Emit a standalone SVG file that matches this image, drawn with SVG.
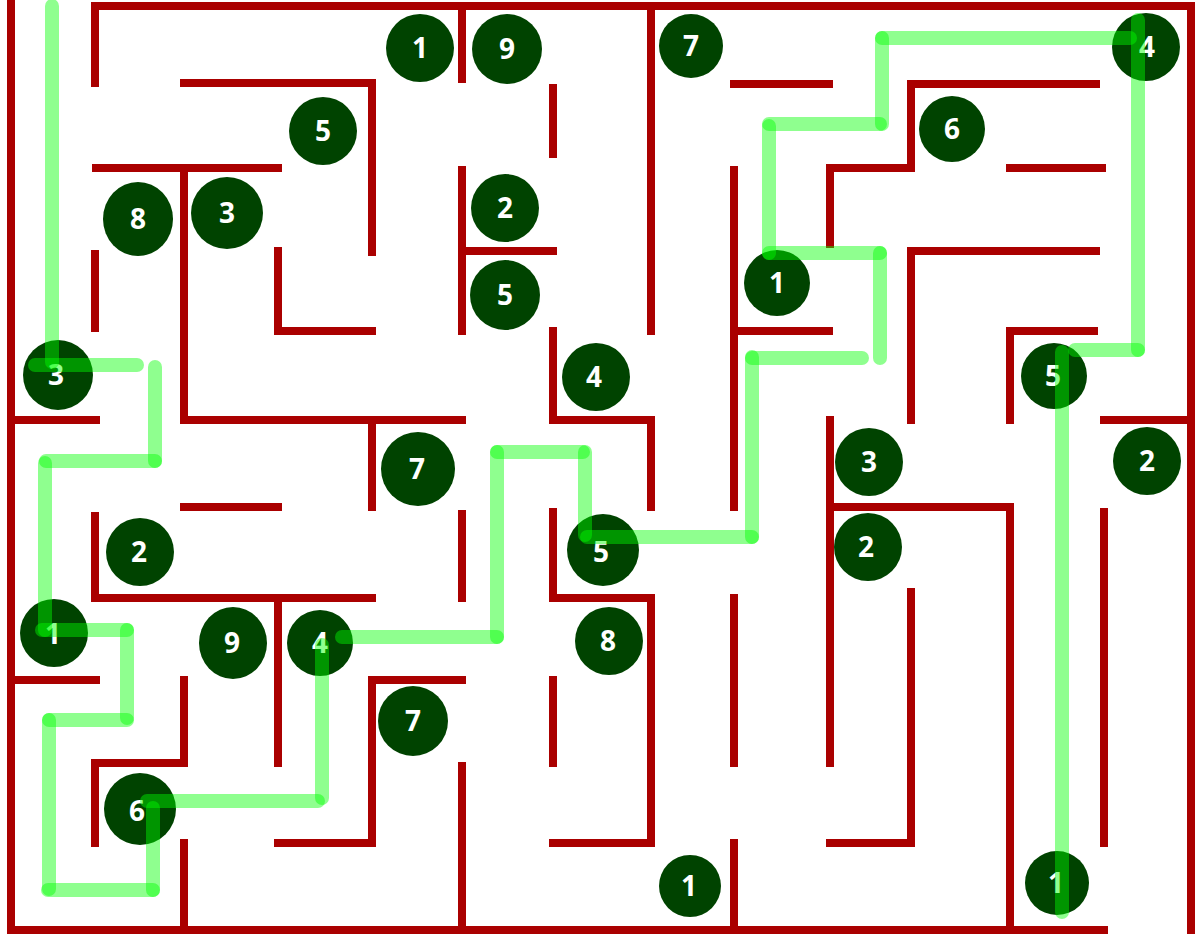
<svg xmlns="http://www.w3.org/2000/svg" width="1200" height="942" viewBox="0 0 1200 942">
<style>
.w{fill:none;stroke:#aa0000;stroke-width:8;stroke-linecap:butt;stroke-linejoin:miter}
.n circle,.n ellipse{fill:#004300}
.n text{fill:#ffffff;font-family:"Open Sans","Liberation Sans",sans-serif;font-weight:bold;font-size:28px;text-anchor:middle}
.p line{stroke:#00ff00;stroke-opacity:0.44;stroke-width:14;stroke-linecap:round}
</style>
<rect width="1200" height="942" fill="#ffffff"/>
<g id="walls" class="w">
<polyline points="11,0 11,934"/>
<polyline points="7,930 1108,930"/>
<polyline points="1191,2 1191,934"/>
<polyline points="95,87 95,6 1195,6"/>
<polyline points="180,83 372,83 372,256"/>
<polyline points="92,168 282,168"/>
<polyline points="184,168 184,420 466,420"/>
<polyline points="95,250 95,332"/>
<polyline points="278,247 278,331 376,331"/>
<polyline points="462,6 462,83"/>
<polyline points="553,84 553,158"/>
<polyline points="651,6 651,335"/>
<polyline points="730,84 833,84"/>
<polyline points="462,166 462,335"/>
<polyline points="462,251 557,251"/>
<polyline points="734,166 734,511"/>
<polyline points="734,331 833,331"/>
<polyline points="1100,84 911,84 911,168 830,168 830,248"/>
<polyline points="1006,168 1106,168"/>
<polyline points="1100,251 911,251 911,424"/>
<polyline points="1098,331 1010,331 1010,424"/>
<polyline points="1100,420 1191,420"/>
<polyline points="11,420 100,420"/>
<polyline points="372,420 372,511"/>
<polyline points="553,327 553,420 651,420 651,511"/>
<polyline points="180,507 282,507"/>
<polyline points="95,512 95,598 376,598"/>
<polyline points="278,598 278,767"/>
<polyline points="462,510 462,602"/>
<polyline points="553,508 553,598 651,598 651,843 549,843"/>
<polyline points="734,594 734,767"/>
<polyline points="830,416 830,767"/>
<polyline points="830,507 1010,507 1010,930"/>
<polyline points="1104,508 1104,847"/>
<polyline points="911,588 911,843 826,843"/>
<polyline points="11,680 100,680"/>
<polyline points="184,676 184,763 95,763 95,847"/>
<polyline points="184,839 184,930"/>
<polyline points="466,680 372,680 372,843 274,843"/>
<polyline points="553,676 553,767"/>
<polyline points="462,762 462,930"/>
<polyline points="734,839 734,930"/>
</g>
<g id="nodes" class="n">
<g id="n1"><circle cx="420" cy="48" r="34"/><text x="420" y="58">1</text></g>
<g id="n2"><circle cx="507" cy="49" r="35"/><text x="507" y="59">9</text></g>
<g id="n3"><circle cx="691" cy="46" r="32"/><text x="691" y="56">7</text></g>
<g id="n4"><circle cx="1146" cy="47" r="34"/><text x="1147" y="57">4</text></g>
<g id="n5"><circle cx="323" cy="131" r="34"/><text x="323" y="141">5</text></g>
<g id="n6"><circle cx="952" cy="129" r="33"/><text x="952" y="139">6</text></g>
<g id="n7"><ellipse cx="138" cy="219" rx="35" ry="37"/><text x="138" y="229">8</text></g>
<g id="n8"><circle cx="227" cy="213" r="36"/><text x="227" y="223">3</text></g>
<g id="n9"><circle cx="505" cy="208" r="34"/><text x="505" y="218">2</text></g>
<g id="n10"><circle cx="505" cy="295" r="35"/><text x="505" y="305">5</text></g>
<g id="n11"><circle cx="777" cy="283" r="33"/><text x="777" y="293">1</text></g>
<g id="n12"><circle cx="58" cy="375" r="35"/><text x="56" y="385">3</text></g>
<g id="n13"><circle cx="596" cy="377" r="34"/><text x="594" y="387">4</text></g>
<g id="n14"><circle cx="1054" cy="376" r="33"/><text x="1053" y="386">5</text></g>
<g id="n15"><circle cx="418" cy="469" r="37"/><text x="417" y="479">7</text></g>
<g id="n16"><circle cx="869" cy="462" r="34"/><text x="869" y="472">3</text></g>
<g id="n17"><circle cx="1147" cy="461" r="34"/><text x="1147" y="471">2</text></g>
<g id="n18"><circle cx="140" cy="552" r="34"/><text x="139" y="562">2</text></g>
<g id="n19"><circle cx="603" cy="550" r="36"/><text x="601" y="562">5</text></g>
<g id="n20"><circle cx="868" cy="547" r="34"/><text x="866" y="557">2</text></g>
<g id="n21"><circle cx="54" cy="633" r="34"/><text x="53" y="644">1</text></g>
<g id="n22"><ellipse cx="233" cy="643" rx="34" ry="36"/><text x="232" y="653">9</text></g>
<g id="n23"><circle cx="320" cy="643" r="33"/><text x="320" y="653">4</text></g>
<g id="n24"><circle cx="609" cy="641" r="34"/><text x="608" y="651">8</text></g>
<g id="n25"><circle cx="413" cy="721" r="35"/><text x="413" y="731">7</text></g>
<g id="n26"><circle cx="140" cy="809" r="36"/><text x="137" y="821">6</text></g>
<g id="n27"><circle cx="690" cy="886" r="31"/><text x="689" y="896">1</text></g>
<g id="n28"><circle cx="1057" cy="883" r="32"/><text x="1056" y="893">1</text></g>
</g>
<g id="connectors" class="p">
<line x1="52" y1="6" x2="52" y2="362"/>
<line x1="35" y1="365" x2="137" y2="365"/>
<line x1="155" y1="367" x2="155" y2="461"/>
<line x1="46" y1="461" x2="155" y2="461"/>
<line x1="45" y1="463" x2="45" y2="630"/>
<line x1="42" y1="630" x2="127" y2="630"/>
<line x1="127" y1="630" x2="127" y2="718"/>
<line x1="49" y1="720" x2="127" y2="720"/>
<line x1="49" y1="720" x2="49" y2="889"/>
<line x1="48" y1="890" x2="153" y2="890"/>
<line x1="153" y1="890" x2="153" y2="808"/>
<line x1="147" y1="801" x2="318" y2="801"/>
<line x1="322" y1="645" x2="322" y2="798"/>
<line x1="342" y1="637" x2="497" y2="637"/>
<line x1="497" y1="637" x2="497" y2="452"/>
<line x1="497" y1="452" x2="583" y2="452"/>
<line x1="585" y1="452" x2="585" y2="535"/>
<line x1="587" y1="537" x2="752" y2="537"/>
<line x1="752" y1="537" x2="752" y2="357"/>
<line x1="752" y1="358" x2="862" y2="358"/>
<line x1="880" y1="358" x2="880" y2="253"/>
<line x1="880" y1="253" x2="769" y2="253"/>
<line x1="769" y1="253" x2="769" y2="126"/>
<line x1="769" y1="124" x2="880" y2="124"/>
<line x1="882" y1="124" x2="882" y2="38"/>
<line x1="882" y1="38" x2="1130" y2="38"/>
<line x1="1138" y1="20" x2="1138" y2="350"/>
<line x1="1138" y1="350" x2="1075" y2="350"/>
<line x1="1062" y1="352" x2="1062" y2="912"/>
</g>
</svg>
